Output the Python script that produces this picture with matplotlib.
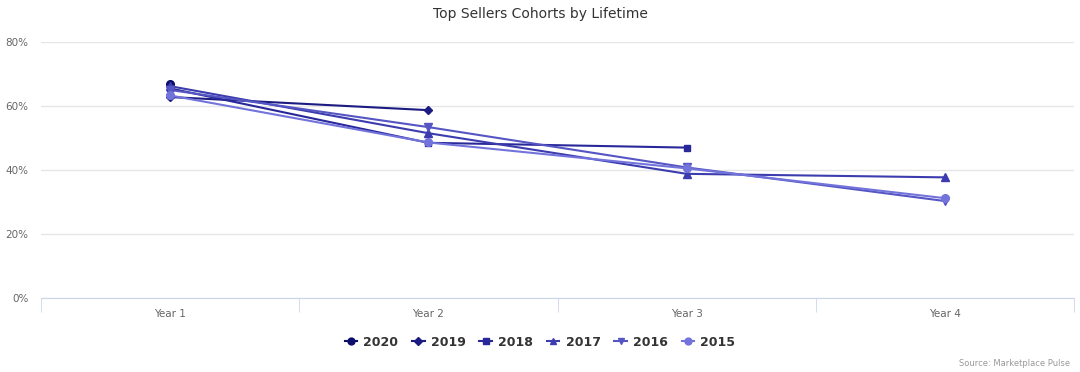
import matplotlib
matplotlib.use("Agg")
import matplotlib.pyplot as plt
from matplotlib.ticker import PercentFormatter

# data (retention share by year of lifetime)
years = ["Year 1", "Year 2", "Year 3", "Year 4"]
cohorts = ["2020", "2019", "2018", "2017", "2016", "2015"]
v2020 = [0.669]
v2019 = [0.628, 0.587]
v2018 = [0.655, 0.485, 0.470]
v2017 = [0.662, 0.515, 0.388, 0.377]
v2016 = [0.650, 0.534, 0.408, 0.303]
v2015 = [0.633, 0.486, 0.405, 0.312]
values = [v2020, v2019, v2018, v2017, v2016, v2015]

colors = ["#0d0d6b", "#1b1b82", "#28289a", "#3c3cae", "#5555c4", "#7373dc"]
markers = ["o", "D", "s", "^", "v", "o"]
msizes = [5.5, 4, 5, 5.5, 5.5, 5.5]

plt.rcParams["font.family"] = ["DejaVu Sans"]

fig = plt.figure(figsize=(10.8, 3.72), dpi=100)
ax = fig.add_axes([41 / 1080, 74 / 372, 1033 / 1080, 256 / 372])

for name, vals, c, m, ms in zip(cohorts, values, colors, markers, msizes):
    ax.plot(range(len(vals)), vals, color=c, marker=m, markersize=ms,
            linewidth=1.5, label=name, clip_on=False, zorder=3)

ax.set_xlim(-0.5, 3.5)
ax.set_ylim(0, 0.8)
ax.set_yticks([0, 0.2, 0.4, 0.6, 0.8])
ax.yaxis.set_major_formatter(PercentFormatter(1.0, decimals=0))
ax.set_xticks(range(len(years)))
ax.set_xticklabels(years)
ax.set_xticks([-0.5, 0.5, 1.5, 2.5, 3.5], minor=True)

ax.grid(axis="y", color="#e6e6e6", linewidth=1)
ax.set_axisbelow(True)
for s in ["top", "right", "left"]:
    ax.spines[s].set_visible(False)
ax.spines["bottom"].set_color("#ccd6eb")

ax.tick_params(axis="y", length=0, labelsize=7.5, labelcolor="#666666", pad=9)
ax.tick_params(axis="x", which="major", length=0, labelsize=7.5,
               labelcolor="#666666", pad=8)
ax.tick_params(axis="x", which="minor", length=10, color="#ccd6eb")

fig.text(0.5, 1 - 14 / 372, "Top Sellers Cohorts by Lifetime", ha="center",
         va="center", fontsize=10, color="#333333")

leg = fig.legend(loc="center", bbox_to_anchor=(0.5, 1 - 342 / 372), ncol=6,
                 frameon=False, fontsize=9, handlelength=1.0,
                 columnspacing=1.1, handletextpad=0.5, markerscale=0.9)
for t in leg.get_texts():
    t.set_fontweight("bold")
    t.set_color("#333333")

fig.text(1 - 10 / 1080, 1 - 364 / 372, "Source: Marketplace Pulse",
         ha="right", va="center", fontsize=6, color="#999999")

fig.savefig("out.png", dpi=100)
